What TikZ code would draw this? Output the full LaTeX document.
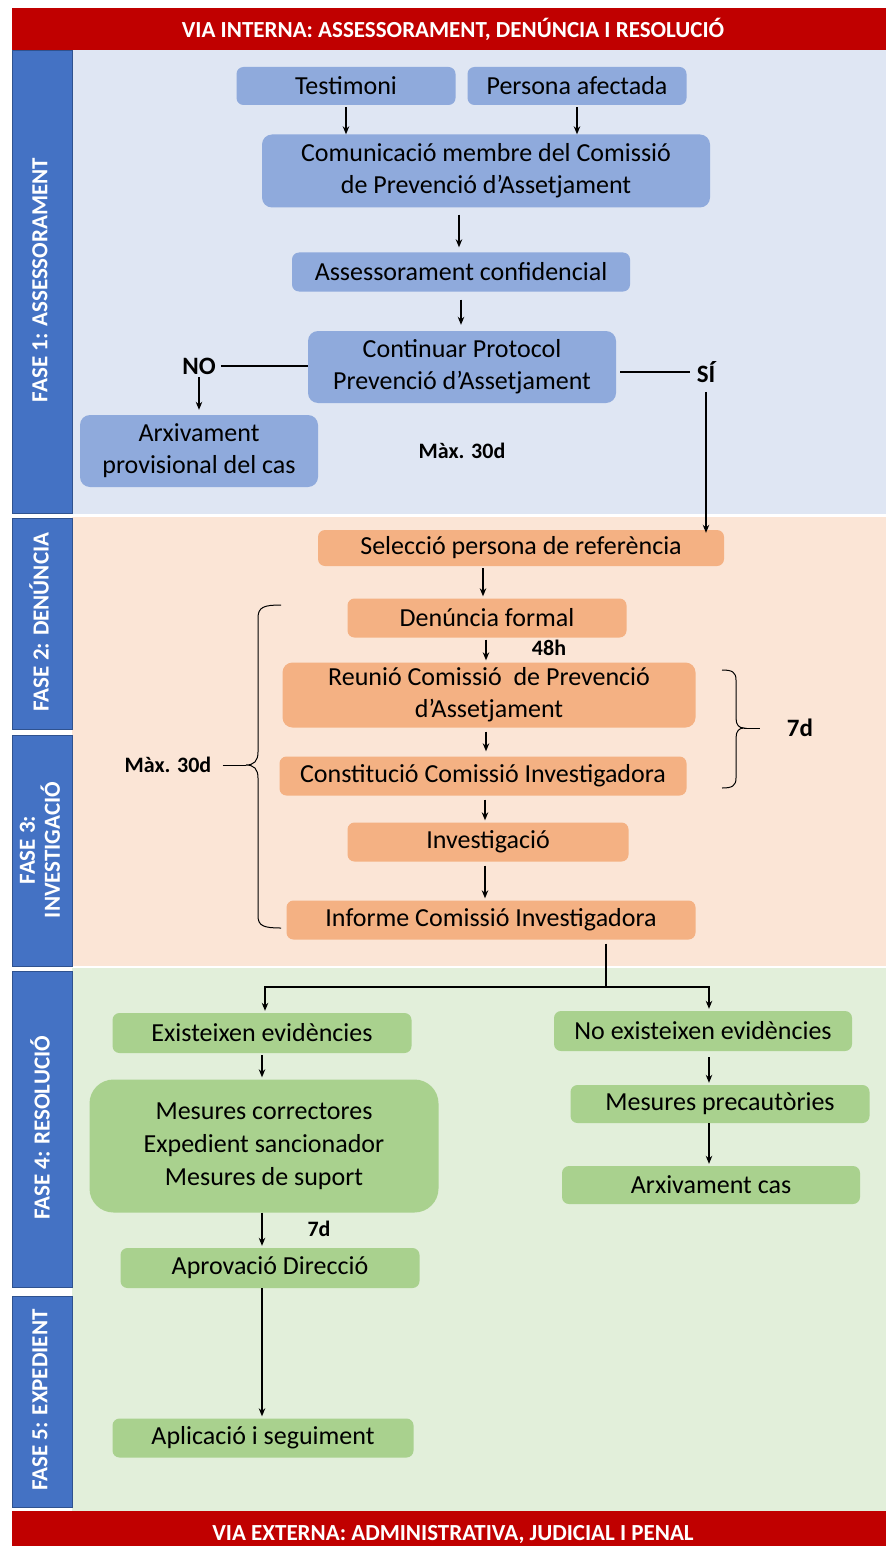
\documentclass[tikz,border=0pt]{standalone}
\usepackage{fontspec}
\setmainfont{Carlito}
\usetikzlibrary{arrows.meta}
\definecolor{hdred}{HTML}{C00000}
\definecolor{phblue}{HTML}{4472C4}
\definecolor{phborder}{HTML}{2F528F}
\definecolor{bgblue}{HTML}{DFE6F3}
\definecolor{bgpeach}{HTML}{FBE5D6}
\definecolor{bggreen}{HTML}{E2EFDA}
\definecolor{bxblue}{HTML}{8FAADC}
\definecolor{bxorange}{HTML}{F4B183}
\definecolor{bxgreen}{HTML}{A9D18E}
\tikzset{
  bx/.style={rounded corners=7pt, align=center, inner sep=0pt, font=\fontsize{26}{32}\selectfont},
  bblue/.style={bx, fill=bxblue},
  borange/.style={bx, fill=bxorange},
  bgreen/.style={bx, fill=bxgreen},
  lbl/.style={inner sep=1pt, font=\bfseries\fontsize{22}{26}\selectfont},
  lblbig/.style={inner sep=1pt, font=\bfseries\fontsize{25}{30}\selectfont},
  phasebox/.style={fill=phblue, draw=phborder, line width=0.8pt},
  phasetxt/.style={rotate=90, text=white, align=center, font=\bfseries\fontsize{23}{25}\selectfont},
  bartxt/.style={text=white, font=\bfseries\fontsize{23}{28}\selectfont},
  conn/.style={line width=1.2pt, black},
  arr/.style={conn, -{Stealth[length=8pt,width=6.5pt]}, shorten <=2pt, shorten >=2pt},
}
\begin{document}
\begin{tikzpicture}[x=1pt,y=-1pt]
\useasboundingbox (0,0) rectangle (886,1546);
\fill[white] (0,0) rectangle (886,1546);
% background panels
\fill[bgblue] (72,50) rectangle (886,514);
\fill[bgpeach] (72,517) rectangle (886,966);
\fill[bggreen] (72,968) rectangle (886,1511);
% header / footer
\fill[hdred] (12,8) rectangle (886,50);
\node[bartxt] (hd) at (453,29) {VIA INTERNA: ASSESSORAMENT, DENÚNCIA I RESOLUCIÓ};
\fill[hdred] (12,1511) rectangle (886,1546);
\node[bartxt] (ft) at (453,1534) {VIA EXTERNA: ADMINISTRATIVA, JUDICIAL I PENAL};
% phase column
\draw[phasebox] (12,50) rectangle (72,513);
\draw[phasebox] (12,518) rectangle (72,729);
\draw[phasebox] (12,735) rectangle (72,966);
\draw[phasebox] (12,971) rectangle (72,1287);
\draw[phasebox] (12,1296) rectangle (72,1507);
\node[phasetxt] (f1) at (40,280) {FASE 1: ASSESSORAMENT};
\node[phasetxt] (f2) at (39,622) {FASE 2: DENÚNCIA};
\node[phasetxt] (f3) at (40,850) {FASE 3:\\INVESTIGACIÓ};
\node[phasetxt] (f4) at (40,1128) {FASE 4: RESOLUCIÓ};
\node[phasetxt] (f5) at (40,1400) {FASE 5: EXPEDIENT};
% phase 1 nodes
\node[bblue, minimum width=219, minimum height=38] (test) at (346,86) {Testimoni};
\node[bblue, minimum width=219, minimum height=38] (pers) at (577,86) {Persona afectada};
\node[bblue, minimum width=448, minimum height=73, rounded corners=10pt] (com) at (486,171) {Comunicació membre del Comissió\\de Prevenció d’Assetjament};
\node[bblue, minimum width=338, minimum height=39] (ass) at (461,272) {Assessorament confidencial};
\node[bblue, minimum width=308, minimum height=72, rounded corners=10pt] (cont) at (462,367) {Continuar Protocol\\Prevenció d’Assetjament};
\node[bblue, minimum width=238, minimum height=72, rounded corners=10pt] (arx) at (199,451) {Arxivament\\provisional del cas};
\node[lblbig] (no) at (199,366) {NO};
\node[lblbig] (si) at (706,372) {SÍ};
\node[lbl] (m30a) at (462,451) {Màx. 30d};
% phase 2-3 nodes
\node[borange, minimum width=406, minimum height=36] (sel) at (521,548) {Selecció persona de referència};
\node[borange, minimum width=279, minimum height=39] (den) at (487,618) {Denúncia formal};
\node[lbl] (h48) at (549,648) {48h};
\node[borange, minimum width=413, minimum height=65, rounded corners=10pt] (reu) at (489,695) {Reunió Comissió\ \ de Prevenció\\d’Assetjament};
\node[borange, minimum width=407, minimum height=39] (cons) at (483,776) {Constitució Comissió Investigadora};
\node[borange, minimum width=281, minimum height=39] (inv) at (488,842) {Investigació};
\node[borange, minimum width=409, minimum height=39] (inf) at (491,920) {Informe Comissió Investigadora};
\node[lbl] (m30b) at (168,765) {Màx. 30d};
\node[lblbig] (d7a) at (800,728) {7d};
% phase 4-5 nodes
\node[bgreen, minimum width=299, minimum height=40] (exi) at (262,1033) {Existeixen evidències};
\node[bgreen, minimum width=298, minimum height=40] (noexi) at (703,1031) {No existeixen evidències};
\node[bgreen, minimum width=349, minimum height=133, rounded corners=24pt, font=\fontsize{26}{33}\selectfont] (mes) at (264,1146) {Mesures correctores\\Expedient sancionador\\Mesures de suport};
\node[bgreen, minimum width=299, minimum height=38] (prec) at (720,1104) {Mesures precautòries};
\node[bgreen, minimum width=298, minimum height=38] (arxc) at (711,1185) {Arxivament cas};
\node[lbl] (d7b) at (319,1229) {7d};
\node[bgreen, minimum width=299, minimum height=40] (apr) at (270,1268) {Aprovació Direcció};
\node[bgreen, minimum width=301, minimum height=39] (apl) at (263,1438) {Aplicació i seguiment};
% connectors phase 1
\draw[arr, shorten >=0pt] (test.south) -- (test.south |- com.north);
\draw[arr, shorten >=0pt] (pers.south) -- (pers.south |- com.north);
\draw[arr, shorten <=7pt, shorten >=5pt] ([xshift=-27]com.south) -- ([xshift=-27]com.south |- ass.north);
\draw[arr, shorten <=8pt, shorten >=6pt] (ass.south) -- (ass.south |- cont.north);
\draw[conn, shorten <=4pt] (no.east) -- (no.east -| cont.west);
\draw[arr, shorten >=5pt] (no.south) -- (no.south |- arx.north);
\draw[conn, shorten <=4pt, shorten >=6pt] (si.west -| cont.east) -- (si.west);
\draw[arr, shorten <=8pt, shorten >=-3pt] (si.south) -- (si.south |- sel.north);
% connectors phase 2-3
\draw[arr] ([xshift=-4]den.north |- sel.south) -- ([xshift=-4]den.north);
\draw[arr] ([xshift=-1]den.south) -- ([xshift=-1]den.south |- reu.north);
\draw[arr, shorten <=4pt, shorten >=5pt] ([xshift=-3]reu.south) -- ([xshift=-3]reu.south |- cons.north);
\draw[arr, shorten <=4pt, shorten >=2pt] ([xshift=-3]inv.north |- cons.south) -- ([xshift=-3]inv.north);
\draw[arr, shorten <=4pt, shorten >=2pt] ([xshift=-3]inv.south) -- ([xshift=-3]inv.south |- inf.north);
% braces
\coordinate (btip) at (246,765);
\draw[conn, line width=1pt] (281,605) .. controls (264,605) and (258,607) .. (258,618) -- (258,752) .. controls (258,761) and (254,765) .. (btip)
      .. controls (254,765) and (258,769) .. (258,778) -- (258,916) .. controls (258,926) and (264,928) .. (281,928);
\draw[conn, line width=1pt, shorten <=10pt] (m30b.east) -- (btip);
\coordinate (rtip) at (744,728);
\draw[conn, line width=1pt] (722,670) .. controls (732,670) and (736,672) .. (736,680) -- (736,718) .. controls (736,725) and (739,728) .. (rtip)
      .. controls (739,728) and (736,731) .. (736,738) -- (736,778) .. controls (736,786) and (732,788) .. (722,788);
\draw[conn, line width=1pt, shorten >=26pt] (rtip) -- (d7a.west);
% connectors phase 4-5
\coordinate (split) at (606,987);
\draw[conn, shorten <=4pt] ([xshift=115]inf.south) -- (split);
\draw[arr, shorten <=0pt] (split) -| ([xshift=3]exi.north);
\draw[arr, shorten <=0pt] (split) -| ([xshift=6]noexi.north);
\draw[arr] (exi.south) -- (exi.south |- mes.north);
\draw[arr, shorten <=6pt] ([xshift=6]noexi.south) -- ([xshift=6]noexi.south |- prec.north);
\draw[arr, shorten <=0pt] ([xshift=-11]prec.south) -- ([xshift=-11]prec.south |- arxc.north);
\draw[arr, shorten <=0pt] ([xshift=-2]mes.south) -- ([xshift=-2]mes.south |- apr.north);
\draw[arr, shorten <=0pt] ([xshift=-8]apr.south) -- ([xshift=-8]apr.south |- apl.north);
\end{tikzpicture}
\end{document}
